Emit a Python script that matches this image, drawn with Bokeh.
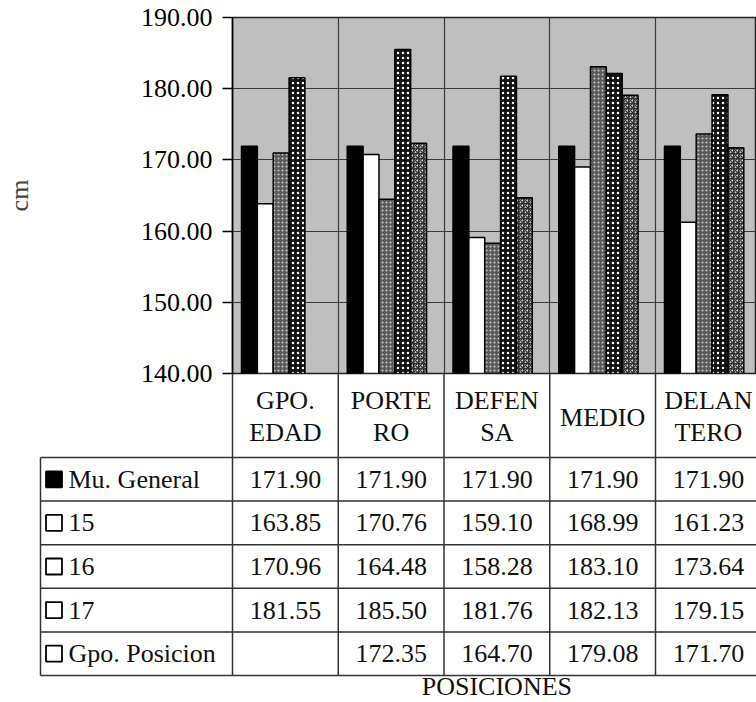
from bokeh.plotting import figure
from bokeh.models import Range1d, FixedTicker, NumeralTickFormatter, ColumnDataSource
from bokeh.layouts import column
from bokeh.core.properties import value
from bokeh.embed import file_html
from bokeh.resources import INLINE
import math

# ---------------- data ----------------
categories = ["GPO.\nEDAD", "PORTE\nRO", "DEFEN\nSA", "MEDIO", "DELAN\nTERO"]
series_names = ["Mu. General", "15", "16", "17", "Gpo. Posicion"]
mu_general = [171.90, 171.90, 171.90, 171.90, 171.90]
edad_15 = [163.85, 170.76, 159.10, 168.99, 161.23]
edad_16 = [170.96, 164.48, 158.28, 183.10, 173.64]
edad_17 = [181.55, 185.50, 181.76, 182.13, 179.15]
gpo_posicion = [float("nan"), 172.35, 164.70, 179.08, 171.70]
y_ticks = [140, 150, 160, 170, 180, 190]
y_label = "cm"
x_label = "POSICIONES"

series_values = [mu_general, edad_15, edad_16, edad_17, gpo_posicion]

FONT = value("Liberation Serif")
CAT_PX = 105.75
FRAME_LEFT = 232
W = 756
OVERLAP = 16

# ---------------- chart ----------------
x_end = (W - FRAME_LEFT) / CAT_PX
p = figure(width=W, height=373 + OVERLAP, output_backend="svg", toolbar_location=None,
           x_range=Range1d(0, x_end), y_range=Range1d(140, 190),
           min_border_left=FRAME_LEFT, min_border_right=0, min_border_top=17,
           min_border_bottom=OVERLAP, frame_align=False)
p.background_fill_color = "#bfbfbf"
p.border_fill_color = "white"
p.outline_line_color = "#222222"
p.outline_line_width = 1.5

p.xaxis.visible = False
p.xgrid.ticker = FixedTicker(ticks=[1, 2, 3, 4])
p.xgrid.grid_line_color = "#3a3a3a"
p.xgrid.grid_line_width = 1.2
p.ygrid.grid_line_color = "#3a3a3a"
p.ygrid.grid_line_width = 1.2

ya = p.yaxis[0]
ya.ticker = FixedTicker(ticks=y_ticks)
ya.formatter = NumeralTickFormatter(format="0.00")
ya.major_label_text_font = "Liberation Serif"
ya.major_label_text_font_size = "26px"
ya.major_label_text_color = "black"
ya.major_tick_out = 10
ya.major_tick_in = 0
ya.minor_tick_out = 0
ya.minor_tick_in = 0
ya.major_label_standoff = 10
ya.axis_line_color = "black"
ya.axis_line_width = 1.5
ya.major_tick_line_width = 1.5
ya.axis_label = y_label
ya.axis_label_text_font = "Liberation Serif"
ya.axis_label_text_font_size = "26px"
ya.axis_label_text_font_style = "normal"
ya.axis_label_standoff = 104

styles = [
    dict(fill_color="black"),
    dict(fill_color="white"),
    dict(fill_color="#5a5a5a", hatch_pattern="dot", hatch_color="#c8c8c8", hatch_scale=4, hatch_weight=1),
    dict(fill_color="#111111", hatch_pattern="dot", hatch_color="white", hatch_scale=5, hatch_weight=1),
    dict(fill_color="#f4f4f4", hatch_pattern="criss_cross", hatch_color="#333333", hatch_scale=5, hatch_weight=1.3),
]
bar_w = 0.15
for k, (vals, st) in enumerate(zip(series_values, styles)):
    xs, tops = [], []
    for i, v in enumerate(vals):
        if v is None or (isinstance(v, float) and math.isnan(v)):
            continue
        xs.append(i + 0.16 + k * bar_w)
        tops.append(v)
    src = ColumnDataSource(dict(x=xs, top=tops))
    p.vbar(x="x", top="top", bottom=140, width=bar_w, source=src,
           line_color="black", line_width=1.5, **st)

# ---------------- table ----------------
TH = 329
x0 = -FRAME_LEFT / CAT_PX
t = figure(width=W, height=TH, output_backend="svg", toolbar_location=None,
           x_range=Range1d(x0, x0 + W / CAT_PX), y_range=Range1d(TH, 0),
           min_border_left=0, min_border_right=0, min_border_top=0, min_border_bottom=0,
           frame_align=False, margin=(-OVERLAP, 0, 0, 0))
t.axis.visible = False
t.grid.visible = False
t.outline_line_color = None
t.background_fill_alpha = 0
t.border_fill_alpha = 0

left = (40 - FRAME_LEFT) / CAT_PX
row_h = 43.6
row_top = 84
n_rows = len(series_names)
bottom = row_top + n_rows * row_h
ncat = len(categories)

# lines
sx0, sy0, sx1, sy1 = [], [], [], []
for i in range(ncat + 1):
    sx0.append(i); sy0.append(0); sx1.append(i); sy1.append(bottom)
sx0.append(left); sy0.append(row_top); sx1.append(left); sy1.append(bottom)
for r in range(n_rows + 1):
    y = row_top + r * row_h
    sx0.append(left); sy0.append(y); sx1.append(ncat); sy1.append(y)
t.segment(x0=sx0, y0=sy0, x1=sx1, y1=sy1, line_color="#333333", line_width=1.5)

# header labels
hx, hy, ht = [], [], []
for i, c in enumerate(categories):
    lines = c.split("\n")
    if len(lines) == 1:
        hx.append(i + 0.5); hy.append(43.5); ht.append(lines[0])
    else:
        for j, ln in enumerate(lines):
            hx.append(i + 0.5); hy.append(26.5 + j * 32.5); ht.append(ln)
t.text(x=hx, y=hy, text=ht, text_font=FONT, text_font_size="26px",
       text_align="center", text_baseline="middle", text_color="#111111")

# values
vx, vy, vt = [], [], []
for r, vals in enumerate(series_values):
    for i, v in enumerate(vals):
        if isinstance(v, float) and math.isnan(v):
            continue
        vx.append(i + 0.5); vy.append(row_top + (r + 0.5) * row_h); vt.append("%.2f" % v)
t.text(x=vx, y=vy, text=vt, text_font=FONT, text_font_size="26px",
       text_align="center", text_baseline="middle", text_color="#111111")

# row labels with legend squares
lx = (68 - FRAME_LEFT) / CAT_PX
mx = (53.5 - FRAME_LEFT) / CAT_PX
ry = [row_top + (r + 0.5) * row_h for r in range(n_rows)]
t.text(x=[lx] * n_rows, y=ry, text=series_names, text_font=FONT, text_font_size="26px",
       text_align="left", text_baseline="middle", text_color="#111111")
t.scatter(x=[mx] * n_rows, y=ry, marker="square", size=16,
          fill_color=["black"] + ["white"] * (n_rows - 1), line_color="black", line_width=1.8)

# x axis title
t.text(x=[2.5], y=[313], text=[x_label], text_font=FONT, text_font_size="26px",
       text_align="center", text_baseline="middle", text_color="#111111")

layout = column(p, t, spacing=0)
open("out.html", "w").write(file_html(layout, INLINE))
